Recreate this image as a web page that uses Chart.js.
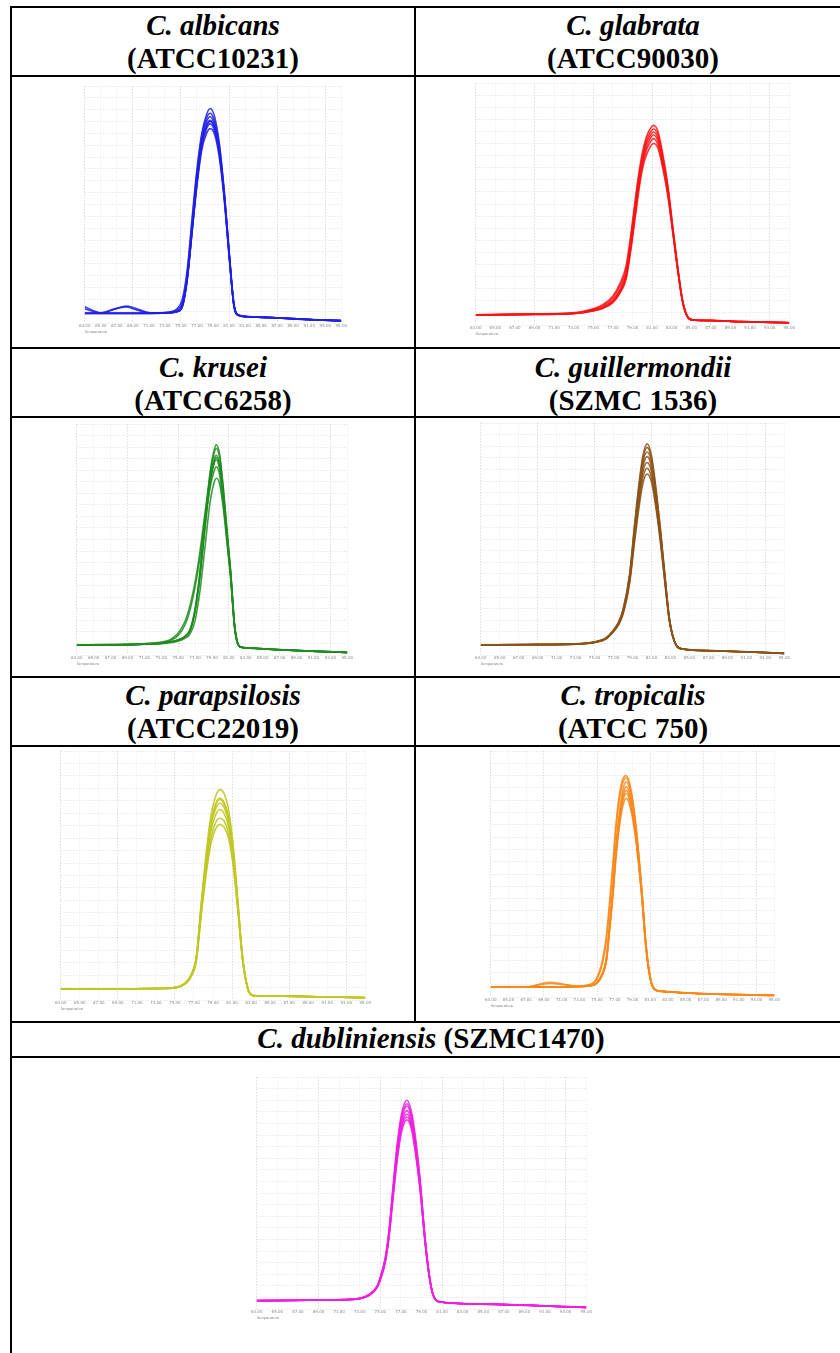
<!DOCTYPE html>
<html>
<head>
<meta charset="utf-8">
<script src="https://cdn.jsdelivr.net/npm/chart.js@4.4.1/dist/chart.umd.min.js"></script>
<style>
  body { margin: 0; width: 840px; height: 1353px; overflow: hidden; background: #fff; position: relative; }
  .hl { position: absolute; height: 2px; background: #000; }
  .vl { position: absolute; width: 2px; background: #000; }
  .cap { position: absolute; text-align: center; font-family: "Liberation Serif", "Times New Roman", serif;
         font-weight: bold; font-size: 29px; line-height: 33px; color: #000; white-space: nowrap; }
  .panel { position: absolute; }
</style>
</head>
<body>

<div class="hl" style="left:10px; width:840px; top:6px"></div>
<div class="hl" style="left:10px; width:840px; top:75px"></div>
<div class="hl" style="left:10px; width:840px; top:347px"></div>
<div class="hl" style="left:10px; width:840px; top:416px"></div>
<div class="hl" style="left:10px; width:840px; top:676px"></div>
<div class="hl" style="left:10px; width:840px; top:745px"></div>
<div class="hl" style="left:10px; width:840px; top:1021px"></div>
<div class="hl" style="left:10px; width:840px; top:1056px"></div>
<div class="vl" style="left:10px; top:6px; height:1360px"></div>
<div class="vl" style="left:414px; top:6px; height:1017px"></div>

<div class="cap" style="left:12px; width:402px; top:9px"><i>C. albicans</i><br>(ATCC10231)</div>
<div class="cap" style="left:416px; width:434px; top:9px"><i>C. glabrata</i><br>(ATCC90030)</div>
<div class="cap" style="left:12px; width:402px; top:351px"><i>C. krusei</i><br>(ATCC6258)</div>
<div class="cap" style="left:416px; width:434px; top:351px"><i>C. guillermondii</i><br>(SZMC 1536)</div>
<div class="cap" style="left:12px; width:402px; top:679px"><i>C. parapsilosis</i><br>(ATCC22019)</div>
<div class="cap" style="left:416px; width:434px; top:679px"><i>C. tropicalis</i><br>(ATCC 750)</div>
<div class="cap" style="left:12px; width:838px; top:1022px"><i>C. dubliniensis</i> (SZMC1470)</div>

<script>
// melt curves, -dF/dT, one array per replicate
var albTemp = [63, 65, 66.7, 68.2, 69.7, 71.2, 73.2, 74.5, 75.2, 75.8, 76.4, 77.0, 77.6, 78.2, 78.65, 79.2, 79.8, 80.4, 81.0, 81.6, 82.2, 84, 88, 91.5, 95];
var albRuns = [
  [0.82, 0.82, 0.82, 0.82, 0.82, 0.83, 0.9, 1.2, 2.1, 4.6, 8.9, 13.0, 16.0, 17.6, 18.1, 17.4, 15.1, 11.2, 6.2, 1.7, 0.68, 0.53, 0.41, 0.29, 0.2],
  [0.82, 0.82, 0.82, 0.82, 0.82, 0.83, 0.88, 1.1, 1.8, 4.3, 8.6, 12.7, 15.8, 17.3, 17.7, 17.0, 14.9, 11.0, 6.1, 1.6, 0.67, 0.52, 0.4, 0.28, 0.2],
  [0.82, 0.82, 0.82, 0.82, 0.82, 0.83, 0.86, 0.98, 1.5, 3.9, 8.1, 12.3, 15.5, 17.0, 17.4, 16.7, 14.6, 10.9, 6.0, 1.6, 0.66, 0.52, 0.4, 0.28, 0.2],
  [0.8, 0.8, 0.8, 0.8, 0.8, 0.81, 0.85, 0.96, 1.45, 3.8, 7.9, 12.0, 15.2, 16.7, 17.1, 16.5, 14.4, 10.8, 5.9, 1.5, 0.64, 0.5, 0.38, 0.26, 0.18],
  [0.8, 0.8, 0.8, 0.8, 0.8, 0.81, 0.84, 0.95, 1.4, 3.7, 7.8, 11.8, 14.9, 16.4, 16.8, 16.2, 14.2, 10.6, 5.8, 1.5, 0.64, 0.5, 0.38, 0.26, 0.18],
  [1.38, 0.87, 1.15, 1.43, 1.15, 0.87, 0.86, 0.97, 1.5, 3.8, 7.7, 11.6, 14.6, 16.0, 16.4, 15.9, 13.9, 10.4, 5.7, 1.5, 0.65, 0.51, 0.39, 0.27, 0.19],
  [1.2, 0.84, 1.2, 1.36, 1.05, 0.85, 0.86, 0.98, 1.55, 3.9, 7.9, 11.9, 15.0, 16.6, 17.0, 16.4, 14.3, 10.7, 5.9, 1.6, 0.66, 0.52, 0.4, 0.28, 0.2]
];

var glaTemp = [63, 68, 72.9, 75.0, 76.0, 77.0, 77.7, 78.35, 78.85, 79.35, 79.7, 80.05, 80.4, 80.8, 81.15, 81.6, 82.1, 82.6, 83.1, 83.6, 84.1, 84.6, 85.15, 87, 90, 95];
var glaRuns = [
  [0.85, 0.9, 1.0, 1.35, 1.7, 2.4, 3.4, 4.9, 7.6, 10.8, 12.8, 14.4, 15.5, 16.2, 16.5, 16.0, 14.1, 11.6, 8.2, 4.9, 2.1, 0.72, 0.43, 0.38, 0.29, 0.2],
  [0.84, 0.89, 0.98, 1.3, 1.6, 2.25, 3.2, 4.6, 7.3, 10.5, 12.6, 14.1, 15.2, 15.9, 16.2, 15.7, 13.8, 11.4, 8.1, 4.8, 2.05, 0.71, 0.42, 0.37, 0.28, 0.19],
  [0.83, 0.88, 0.96, 1.24, 1.5, 2.06, 2.9, 4.3, 7.0, 10.2, 12.3, 13.9, 15.0, 15.65, 15.95, 15.45, 13.6, 11.2, 8.0, 4.75, 2.0, 0.7, 0.42, 0.37, 0.28, 0.19],
  [0.83, 0.88, 0.95, 1.2, 1.45, 1.98, 2.8, 4.1, 6.7, 9.9, 12.0, 13.6, 14.7, 15.4, 15.7, 15.2, 13.4, 11.0, 7.9, 4.7, 2.0, 0.7, 0.42, 0.37, 0.28, 0.19],
  [0.82, 0.87, 0.94, 1.18, 1.42, 1.92, 2.7, 3.95, 6.5, 9.6, 11.7, 13.3, 14.4, 15.1, 15.4, 14.9, 13.2, 10.9, 7.8, 4.65, 1.98, 0.69, 0.41, 0.36, 0.27, 0.18],
  [0.82, 0.86, 0.93, 1.15, 1.38, 1.85, 2.6, 3.8, 6.3, 9.3, 11.4, 13.0, 14.0, 14.7, 15.0, 14.6, 12.9, 10.7, 7.7, 4.6, 1.95, 0.68, 0.41, 0.36, 0.27, 0.18]
];

var kruTemp = [63, 67, 70, 73.6, 75.0, 75.8, 76.4, 77.0, 77.55, 78.15, 78.75, 79.2, 79.5, 79.9, 80.35, 80.8, 81.2, 81.7, 82.3, 83.5, 86, 90, 95];
var kruRuns = [
  [0.87, 0.88, 0.92, 1.07, 1.3, 1.6, 2.2, 4.0, 7.0, 11.5, 15.7, 17.6, 18.2, 17.4, 14.4, 10.6, 7.3, 2.4, 0.73, 0.6, 0.5, 0.36, 0.23],
  [0.87, 0.88, 0.92, 1.07, 1.3, 1.6, 2.15, 3.9, 6.9, 11.3, 15.4, 17.3, 17.9, 17.1, 14.2, 10.5, 7.2, 2.4, 0.73, 0.6, 0.5, 0.36, 0.23],
  [0.86, 0.87, 0.91, 1.06, 1.3, 1.6, 2.1, 3.85, 6.75, 11.0, 15.0, 16.8, 17.3, 16.5, 13.8, 10.2, 7.1, 2.35, 0.72, 0.6, 0.5, 0.36, 0.23],
  [0.87, 0.88, 0.92, 1.07, 1.3, 1.6, 2.1, 3.8, 6.6, 10.8, 14.6, 16.4, 16.9, 16.1, 13.5, 10.0, 7.0, 2.3, 0.72, 0.6, 0.5, 0.36, 0.23],
  [0.88, 0.9, 0.95, 1.15, 1.7, 2.6, 3.9, 5.9, 8.3, 11.6, 14.4, 15.8, 16.3, 15.6, 13.1, 9.8, 6.8, 2.2, 0.7, 0.58, 0.48, 0.35, 0.22],
  [0.88, 0.9, 0.95, 1.2, 1.9, 2.9, 4.3, 6.3, 8.8, 12.2, 15.2, 16.6, 17.1, 16.3, 13.7, 10.1, 7.0, 2.3, 0.71, 0.59, 0.49, 0.35, 0.22],
  [0.86, 0.87, 0.9, 1.03, 1.2, 1.45, 1.8, 3.0, 5.4, 9.2, 13.1, 14.8, 15.3, 14.8, 12.6, 9.5, 6.7, 2.2, 0.7, 0.58, 0.48, 0.35, 0.22]
];

var guiTemp = [63, 68, 73, 75.2, 76.2, 76.9, 77.5, 78.0, 78.7, 79.2, 79.7, 80.1, 80.55, 81.0, 81.5, 82.0, 82.5, 82.9, 83.6, 84.3, 88, 95];
var guiRuns = [
  [0.87, 0.91, 0.96, 1.17, 1.47, 2.05, 2.8, 3.9, 7.0, 11.1, 14.9, 17.2, 18.2, 17.2, 14.2, 10.4, 6.2, 3.1, 0.88, 0.53, 0.36, 0.15],
  [0.87, 0.91, 0.96, 1.16, 1.46, 2.03, 2.75, 3.85, 6.9, 10.9, 14.6, 16.9, 17.9, 16.9, 14.0, 10.3, 6.1, 3.1, 0.87, 0.53, 0.36, 0.15],
  [0.86, 0.9, 0.95, 1.15, 1.44, 2.0, 2.72, 3.8, 6.75, 10.6, 14.3, 16.6, 17.5, 16.6, 13.7, 10.1, 6.0, 3.0, 0.86, 0.52, 0.35, 0.14],
  [0.86, 0.9, 0.95, 1.15, 1.43, 2.0, 2.7, 3.7, 6.6, 10.4, 14.0, 16.2, 17.1, 16.2, 13.4, 9.9, 5.9, 3.0, 0.86, 0.52, 0.35, 0.14],
  [0.85, 0.89, 0.94, 1.13, 1.42, 1.97, 2.65, 3.65, 6.5, 10.2, 13.6, 15.8, 16.6, 15.8, 13.1, 9.7, 5.8, 2.95, 0.85, 0.51, 0.34, 0.14],
  [0.85, 0.89, 0.94, 1.12, 1.4, 1.95, 2.6, 3.6, 6.35, 9.9, 13.2, 15.3, 16.1, 15.3, 12.8, 9.5, 5.7, 2.9, 0.85, 0.51, 0.34, 0.14],
  [0.84, 0.88, 0.93, 1.1, 1.38, 1.92, 2.55, 3.5, 6.2, 9.6, 12.8, 14.8, 15.6, 14.9, 12.5, 9.3, 5.6, 2.85, 0.84, 0.5, 0.34, 0.14]
];

var parTemp = [63, 68, 74.1, 75.8, 76.7, 77.25, 77.75, 78.3, 78.8, 79.25, 79.7, 80.15, 80.6, 81.1, 81.6, 82.1, 82.65, 83.2, 85, 90, 95];
var parRuns = [
  [0.88, 0.9, 0.94, 1.22, 2.05, 3.5, 7.7, 11.9, 14.9, 16.3, 16.9, 16.6, 15.4, 12.6, 8.1, 3.5, 0.95, 0.36, 0.33, 0.26, 0.19],
  [0.88, 0.9, 0.94, 1.2, 2.0, 3.4, 7.45, 11.5, 14.3, 15.7, 16.2, 15.9, 14.8, 12.1, 7.85, 3.45, 0.94, 0.36, 0.33, 0.26, 0.19],
  [0.88, 0.9, 0.94, 1.2, 2.0, 3.4, 7.4, 11.4, 14.2, 15.6, 16.1, 15.8, 14.7, 12.0, 7.8, 3.4, 0.94, 0.36, 0.33, 0.26, 0.19],
  [0.88, 0.9, 0.94, 1.2, 2.0, 3.35, 7.3, 11.2, 14.0, 15.3, 15.8, 15.5, 14.4, 11.8, 7.7, 3.4, 0.94, 0.36, 0.33, 0.26, 0.19],
  [0.87, 0.89, 0.93, 1.18, 1.95, 3.3, 7.1, 10.9, 13.6, 14.8, 15.3, 15.0, 14.0, 11.5, 7.6, 3.35, 0.93, 0.35, 0.32, 0.25, 0.18],
  [0.87, 0.89, 0.93, 1.17, 1.9, 3.2, 6.9, 10.5, 13.0, 14.2, 14.6, 14.4, 13.5, 11.2, 7.4, 3.3, 0.92, 0.35, 0.32, 0.25, 0.18],
  [0.87, 0.89, 0.93, 1.16, 1.88, 3.15, 6.7, 10.2, 12.6, 13.7, 14.1, 13.9, 13.1, 10.9, 7.3, 3.25, 0.92, 0.35, 0.32, 0.25, 0.18]
];

var troTemp = [63, 67, 69.7, 70.8, 72.6, 74.1, 74.9, 75.6, 76.05, 76.4, 76.8, 77.15, 77.55, 77.9, 78.3, 78.85, 79.4, 80.0, 80.55, 81.1, 81.7, 82.5, 86, 95];
var troRuns = [
  [0.81, 0.82, 1.2, 1.1, 0.9, 1.0, 1.45, 3.0, 5.0, 7.6, 11.0, 14.2, 16.6, 17.7, 18.0, 16.8, 13.9, 9.2, 4.1, 1.25, 0.55, 0.46, 0.3, 0.14],
  [0.81, 0.82, 1.1, 1.05, 0.88, 0.98, 1.35, 2.7, 4.6, 7.1, 10.5, 13.7, 16.2, 17.4, 17.8, 16.6, 13.7, 9.1, 4.05, 1.24, 0.55, 0.46, 0.3, 0.14],
  [0.81, 0.81, 0.82, 0.82, 0.84, 0.92, 1.1, 1.95, 3.2, 5.7, 9.0, 12.4, 15.1, 16.8, 17.5, 16.3, 13.5, 9.0, 4.0, 1.23, 0.55, 0.45, 0.3, 0.14],
  [0.81, 0.81, 0.82, 0.82, 0.84, 0.92, 1.1, 1.9, 3.1, 5.6, 8.8, 12.1, 14.8, 16.4, 17.1, 15.9, 13.2, 8.8, 3.9, 1.22, 0.54, 0.45, 0.3, 0.14],
  [0.8, 0.8, 0.81, 0.81, 0.83, 0.91, 1.08, 1.85, 3.0, 5.5, 8.6, 11.9, 14.6, 16.1, 16.8, 15.6, 13.0, 8.7, 3.85, 1.2, 0.53, 0.44, 0.29, 0.13],
  [0.8, 0.8, 0.81, 0.81, 0.83, 0.9, 1.07, 1.82, 2.95, 5.4, 8.5, 11.7, 14.4, 15.9, 16.55, 15.4, 12.8, 8.6, 3.8, 1.2, 0.53, 0.44, 0.29, 0.13],
  [0.8, 0.8, 0.81, 0.81, 0.83, 0.9, 1.06, 1.8, 2.9, 5.3, 8.3, 11.4, 14.0, 15.5, 16.15, 15.1, 12.6, 8.5, 3.75, 1.19, 0.53, 0.44, 0.29, 0.13]
];

var dubTemp = [63, 68, 72.3, 73.9, 74.7, 75.1, 75.5, 75.85, 76.2, 76.65, 77.1, 77.6, 78.05, 78.4, 78.85, 79.35, 79.75, 80.1, 80.7, 84.8, 95];
var dubRuns = [
  [0.72, 0.76, 0.84, 1.25, 2.0, 3.05, 4.5, 6.8, 10.2, 14.3, 17.0, 18.0, 16.9, 14.9, 11.3, 6.1, 3.0, 1.32, 0.64, 0.44, 0.14],
  [0.72, 0.76, 0.84, 1.23, 1.97, 3.0, 4.45, 6.7, 10.0, 14.1, 16.7, 17.7, 16.6, 14.6, 11.1, 6.0, 2.95, 1.31, 0.63, 0.43, 0.14],
  [0.72, 0.76, 0.83, 1.22, 1.95, 2.95, 4.4, 6.6, 9.9, 13.9, 16.5, 17.5, 16.4, 14.4, 11.0, 6.0, 2.92, 1.3, 0.63, 0.43, 0.14],
  [0.72, 0.76, 0.83, 1.2, 1.92, 2.9, 4.3, 6.5, 9.7, 13.6, 16.2, 17.1, 16.1, 14.2, 10.8, 5.9, 2.9, 1.3, 0.63, 0.43, 0.14],
  [0.71, 0.75, 0.82, 1.18, 1.9, 2.85, 4.2, 6.4, 9.5, 13.3, 15.9, 16.8, 15.8, 13.9, 10.6, 5.8, 2.85, 1.28, 0.62, 0.42, 0.13],
  [0.71, 0.75, 0.82, 1.17, 1.88, 2.8, 4.15, 6.3, 9.4, 13.1, 15.7, 16.55, 15.6, 13.7, 10.5, 5.75, 2.82, 1.27, 0.62, 0.42, 0.13],
  [0.71, 0.75, 0.82, 1.16, 1.85, 2.75, 4.1, 6.2, 9.2, 12.9, 15.4, 16.3, 15.4, 13.5, 10.4, 5.7, 2.8, 1.26, 0.61, 0.42, 0.13]
];

var tempMin = 63, tempMax = 95, tempStep = 2;
var axisTitle = 'Temperature';

function makeConfig(temps, runs, color) {
  var sets = runs.map(function (vals) {
    return {
      data: vals.map(function (v, j) { return { x: temps[j], y: v }; }),
      borderColor: color,
      borderWidth: 1.6,
      pointRadius: 0,
      fill: false,
      cubicInterpolationMode: 'monotone'
    };
  });
  return {
    type: 'line',
    data: { datasets: sets },
    options: {
      responsive: false,
      maintainAspectRatio: false,
      animation: false,
      events: [],
      layout: { padding: 0 },
      plugins: { legend: { display: false }, tooltip: { enabled: false } },
      scales: {
        x: {
          type: 'linear', min: tempMin, max: tempMax,
          ticks: {
            stepSize: tempStep, autoSkip: false, maxRotation: 0, minRotation: 0, padding: 1,
            color: '#888', font: { size: 4, family: 'DejaVu Sans' },
            callback: function (v) { return v.toFixed(2); }
          },
          grid: {
            drawTicks: false, lineWidth: 0.7,
            color: function (c) { return c.index % 3 === 0 ? '#cfcfcf' : '#ebebeb'; }
          },
          border: { display: false, dash: [1.5, 1.5] },
          title: { display: true, text: axisTitle, align: 'start', color: '#888',
                   font: { size: 3.5, family: 'DejaVu Sans' }, padding: { top: 0, bottom: 0 } }
        },
        y: {
          min: 0, max: 20,
          ticks: { display: false, stepSize: 1 },
          grid: { drawTicks: false, lineWidth: 0.7, color: '#e0e0e0' },
          border: { display: false, dash: [1.5, 1.5] }
        }
      }
    }
  };
}

// build once, measure chartArea, rebuild so the plot lands on the box
function drawPanel(box, temps, runs, color) {
  var w = box.right - box.left + 20, h = box.bottom - box.top + 20;
  var wrap = document.createElement('div');
  wrap.className = 'panel';
  document.body.appendChild(wrap);

  var cv = document.createElement('canvas');
  cv.width = w; cv.height = h;
  wrap.appendChild(cv);
  var chart = new Chart(cv, makeConfig(temps, runs, color));
  var a = chart.chartArea;
  w += (box.right - box.left) - (a.right - a.left);
  h += (box.bottom - box.top) - (a.bottom - a.top);
  chart.destroy();
  wrap.removeChild(cv);

  cv = document.createElement('canvas');
  cv.width = w; cv.height = h;
  wrap.appendChild(cv);
  chart = new Chart(cv, makeConfig(temps, runs, color));
  a = chart.chartArea;
  wrap.style.left = (box.left - a.left) + 'px';
  wrap.style.top = (box.top - a.top) + 'px';
}

drawPanel({ left: 85, right: 342, top: 86, bottom: 323 }, albTemp, albRuns, 'rgba(30,30,230,0.85)');
drawPanel({ left: 476, right: 790, top: 83, bottom: 325 }, glaTemp, glaRuns, 'rgba(250,20,20,0.85)');
drawPanel({ left: 77, right: 348, top: 424, bottom: 655 }, kruTemp, kruRuns, 'rgba(30,140,30,0.85)');
drawPanel({ left: 481, right: 785, top: 423, bottom: 655 }, guiTemp, guiRuns, 'rgba(140,82,25,0.85)');
drawPanel({ left: 61, right: 366, top: 751, bottom: 1000 }, parTemp, parRuns, 'rgba(192,200,35,0.9)');
drawPanel({ left: 491, right: 775, top: 751, bottom: 997 }, troTemp, troRuns, 'rgba(250,135,25,0.85)');
drawPanel({ left: 257, right: 587, top: 1077, bottom: 1309 }, dubTemp, dubRuns, 'rgba(240,30,225,0.85)');
</script>
</body>
</html>
